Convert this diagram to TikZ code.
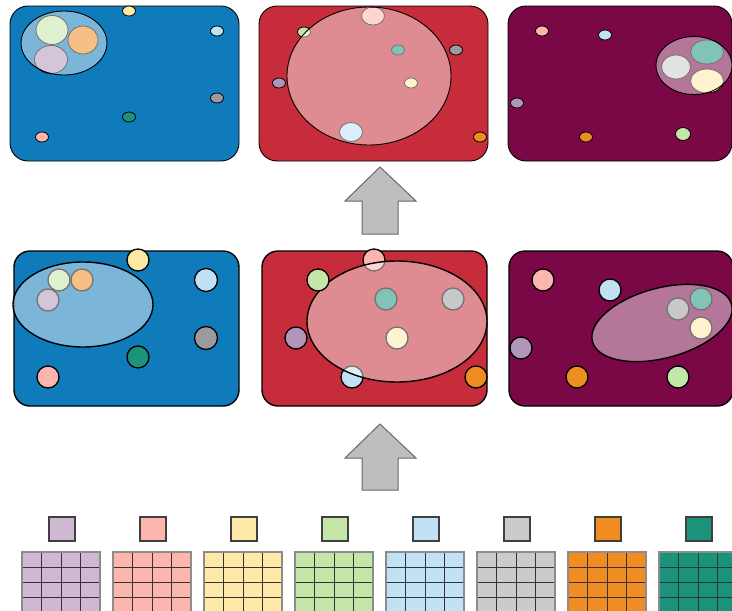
\documentclass[tikz,border=0pt]{standalone}
\definecolor{cpur}{RGB}{207,185,210}
\definecolor{cpink}{RGB}{253,182,174}
\definecolor{cyel}{RGB}{255,233,166}
\definecolor{cgrn}{RGB}{197,230,169}
\definecolor{cblu}{RGB}{192,226,244}
\definecolor{cgry}{RGB}{203,203,203}
\definecolor{corg}{RGB}{239,140,34}
\definecolor{cteal}{RGB}{26,147,122}
\definecolor{dpur}{RGB}{178,150,186}
\definecolor{dgry}{RGB}{155,155,155}
\definecolor{pblue}{RGB}{15,123,187}
\definecolor{pred}{RGB}{198,44,58}
\definecolor{pmag}{RGB}{122,8,71}
\definecolor{arfill}{RGB}{190,190,190}
\definecolor{arline}{RGB}{105,105,105}
\tikzset{
  tdot/.style={draw=black, line width=0.8pt},
  mdot/.style={draw=black, line width=1.3pt},
  panelT/.style={draw=black, line width=0.9pt, rounded corners=18pt},
  panelM/.style={draw=black, line width=1.4pt, rounded corners=16pt},
  hazeT/.style={fill=white, fill opacity=0.45, draw=black, line width=0.9pt},
  hazeM/.style={fill=white, fill opacity=0.45, draw=black, line width=1.4pt},
  upar/.style={fill=arfill, draw=arline, line width=1pt},
  legsq/.style={draw=black!75, line width=1.2pt},
}
\begin{document}
\begin{tikzpicture}[x=1pt,y=-1pt]
\clip (0,0) rectangle (732,611);
\fill[white] (0,0) rectangle (732,611);

% ---------------- top row ----------------
% panel 1
\draw[panelT, fill=pblue] (10,6) rectangle (239,161);
\draw[tdot, fill=cgrn] (52,30) ellipse [x radius=16, y radius=14.5];
\draw[tdot, fill=corg] (83,40) ellipse [x radius=15, y radius=14];
\draw[tdot, fill=dpur] (51,59.5) ellipse [x radius=16.5, y radius=14];
\draw[hazeT] (64,43) ellipse [x radius=43, y radius=32];
\draw[tdot, fill=cyel] (129,11) ellipse [x radius=6.5, y radius=5];
\draw[tdot, fill=cblu] (217,31) ellipse [x radius=6.5, y radius=5];
\draw[tdot, fill=dgry] (217,98) ellipse [x radius=6.5, y radius=5];
\draw[tdot, fill=cteal] (129,117) ellipse [x radius=6.5, y radius=5];
\draw[tdot, fill=cpink] (42,137) ellipse [x radius=6.5, y radius=5];

% panel 2
\draw[panelT, fill=pred] (259,6) rectangle (488,161);
\draw[tdot, fill=cpink] (373,16) ellipse [x radius=11.5, y radius=9];
\draw[tdot, fill=cblu] (351,132) ellipse [x radius=11.5, y radius=9.5];
\draw[tdot, fill=cteal] (398,50) ellipse [x radius=6.5, y radius=5];
\draw[tdot, fill=cyel] (411,83) ellipse [x radius=6.5, y radius=5];
\draw[tdot, fill=cgrn] (304,32) ellipse [x radius=6.5, y radius=5];
\draw[hazeT] (369,76) ellipse [x radius=82, y radius=69];
\draw[tdot, fill=dgry] (456,50) ellipse [x radius=6.5, y radius=5];
\draw[tdot, fill=dpur] (279,83) ellipse [x radius=6.5, y radius=5];
\draw[tdot, fill=corg] (480,137) ellipse [x radius=6.5, y radius=5];

% panel 3
\draw[panelT, fill=pmag] (508,6) rectangle (732,161);
\draw[tdot, fill=cteal] (707,52) ellipse [x radius=16.5, y radius=12];
\draw[tdot, fill=cgry] (676,67) ellipse [x radius=14.5, y radius=12];
\draw[tdot, fill=cyel] (707,81) ellipse [x radius=16.5, y radius=12];
\draw[hazeT] (694,65.5) ellipse [x radius=38, y radius=29];
\draw[tdot, fill=cpink] (542,31) ellipse [x radius=6.5, y radius=5];
\draw[tdot, fill=cblu] (605,35) ellipse [x radius=6.5, y radius=5];
\draw[tdot, fill=dpur] (517,103) ellipse [x radius=6.5, y radius=5];
\draw[tdot, fill=corg] (586,137) ellipse [x radius=6.5, y radius=5];
\draw[tdot, fill=cgrn] (683,134) ellipse [x radius=7.5, y radius=6.5];

% arrow 1
\draw[upar] (380,167) -- (416,201) -- (398,201) -- (398,234) -- (362,234) -- (362,201) -- (345,201) -- cycle;

% ---------------- middle row ----------------
% panel 4
\draw[panelM, fill=pblue] (14,251) rectangle (239,406);
\draw[mdot, fill=cgrn] (59,280) circle [radius=11];
\draw[mdot, fill=corg] (82,280) circle [radius=11];
\draw[mdot, fill=dpur] (48,300) circle [radius=11];
\draw[hazeM] (83,304.5) ellipse [x radius=70, y radius=42.5];
\draw[mdot, fill=cyel] (138,260) circle [radius=11];
\draw[mdot, fill=cblu] (206,280) circle [radius=11.5];
\draw[mdot, fill=dgry] (206,338) circle [radius=11.5];
\draw[mdot, fill=cteal] (138,357) circle [radius=11];
\draw[mdot, fill=cpink] (48,377) circle [radius=11];

% panel 5
\draw[panelM, fill=pred] (262,251) rectangle (487,406);
\draw[mdot, fill=cpink] (374,260) circle [radius=11];
\draw[mdot, fill=cteal] (386,299) circle [radius=11];
\draw[mdot, fill=dgry] (453,299) circle [radius=11];
\draw[mdot, fill=cyel] (397,338) circle [radius=11];
\draw[mdot, fill=cblu] (352,377) circle [radius=11];
\draw[hazeM] (397,321.5) ellipse [x radius=90, y radius=60.5];
\draw[mdot, fill=cgrn] (318,280) circle [radius=11];
\draw[mdot, fill=dpur] (296,338) circle [radius=11];
\draw[mdot, fill=corg] (476,377) circle [radius=11];

% panel 6
\draw[panelM, fill=pmag] (509,251) rectangle (733,406);
\draw[mdot, fill=cteal] (701,299) circle [radius=11];
\draw[mdot, fill=dgry] (678,309) circle [radius=11];
\draw[mdot, fill=cyel] (701,328) circle [radius=11];
\draw[hazeM, rotate around={15:(662,323)}] (662,323) ellipse [x radius=72, y radius=35];
\draw[mdot, fill=cpink] (543,280) circle [radius=11];
\draw[mdot, fill=cblu] (610,290) circle [radius=11];
\draw[mdot, fill=dpur] (521,348) circle [radius=11];
\draw[mdot, fill=corg] (577,377) circle [radius=11];
\draw[mdot, fill=cgrn] (678,377) circle [radius=11];

% arrow 2
\draw[upar] (380,424) -- (416,458) -- (398,458) -- (398,490) -- (362,490) -- (362,458) -- (345,458) -- cycle;

% ---------------- bottom legend ----------------
\foreach \c [count=\i from 0] in {cpur,cpink,cyel,cgrn,cblu,cgry,corg,cteal} {
  \pgfmathsetmacro\gx{22+91*\i}
  \pgfmathsetmacro\sx{49+91*\i}
  \draw[legsq, fill=\c] (\sx,517) rectangle ++(26,24);
  \fill[\c] (\gx,552) rectangle ++(78,75);
  \foreach \k in {1,2,3} {
    \draw[black!80, line width=0.8pt] (\gx+19.5*\k,552) -- ++(0,75);
    \draw[black!80, line width=0.8pt] (\gx,552+15*\k) -- ++(78,0);
  }
  \draw[black!45, line width=1.2pt] (\gx,627) -- (\gx,552) -- ++(78,0) -- ++(0,75);
}
\end{tikzpicture}
\end{document}
